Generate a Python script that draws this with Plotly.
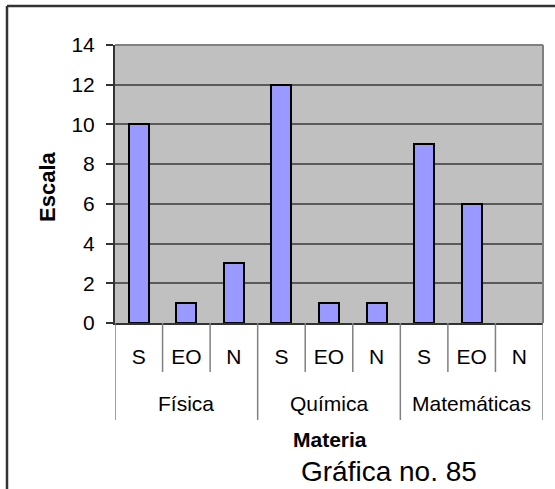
import plotly.graph_objects as go

subjects = ["Física", "Química", "Matemáticas"]
responses = ["S", "EO", "N"]
fisica = [10, 1, 3]
quimica = [12, 1, 1]
matematicas = [9, 6, 0]
y_ticks = [0, 2, 4, 6, 8, 10, 12, 14]

series = [fisica, quimica, matematicas]
values = [v for s in series for v in s]
n_resp = len(responses)
positions = list(range(len(values)))
tick_text = responses * len(subjects)

FONT = "Liberation Sans, Arial, sans-serif"
W, H = 555, 489
ML, MR, MT, MB = 115, 12, 45, 166
PW, PH = W - ML - MR, H - MT - MB


def px_x(p):
    return (p - ML) / PW


def px_y(p):
    return (H - MB - p) / PH


fig = go.Figure()
fig.add_trace(go.Bar(
    x=positions, y=values, width=0.42,
    marker=dict(color="#9999FF",
                line=dict(color="#000000", width=[2 if v > 0 else 0 for v in values])),
    hoverinfo="y",
))

shapes = []
# outer chart frame (left and top edges visible)
shapes.append(dict(type="line", xref="paper", yref="paper",
                   x0=px_x(7), x1=px_x(W + 20), y0=px_y(6), y1=px_y(6),
                   line=dict(color="#333333", width=2.5)))
shapes.append(dict(type="line", xref="paper", yref="paper",
                   x0=px_x(7), x1=px_x(7), y0=px_y(6), y1=px_y(H + 20),
                   line=dict(color="#333333", width=2.5)))
# plot-area top/right border
shapes.append(dict(type="line", xref="paper", yref="paper",
                   x0=0, x1=1, y0=1, y1=1, line=dict(color="#808080", width=2)))
shapes.append(dict(type="line", xref="paper", yref="paper",
                   x0=1, x1=1, y0=0, y1=1, line=dict(color="#808080", width=2)))
# category dividers
for k in range(len(values) + 1):
    xb = k - 0.5
    long_line = (k % n_resp == 0)
    shapes.append(dict(type="line", xref="x", yref="paper",
                       x0=xb, x1=xb, y0=0, y1=px_y(420) if long_line else px_y(372),
                       line=dict(color="#808080", width=1.5)))

annotations = []
for gi, name in enumerate(subjects):
    annotations.append(dict(x=gi * n_resp + (n_resp - 1) / 2, y=px_y(403), xref="x", yref="paper",
                            text=name, showarrow=False, yanchor="middle",
                            font=dict(family=FONT, size=21, color="#000000")))
annotations.append(dict(x=px_x(48), y=px_y(187), xref="paper", yref="paper",
                        text="<b>Escala</b>", textangle=-90, showarrow=False,
                        xanchor="center", yanchor="middle",
                        font=dict(family=FONT, size=22, color="#000000")))
annotations.append(dict(x=px_x(330), y=px_y(439), xref="paper", yref="paper",
                        text="<b>Materia</b>", showarrow=False,
                        xanchor="center", yanchor="middle",
                        font=dict(family=FONT, size=21, color="#000000")))
annotations.append(dict(x=px_x(389), y=px_y(471), xref="paper", yref="paper",
                        text="Gráfica no. 85", showarrow=False,
                        xanchor="center", yanchor="middle",
                        font=dict(family=FONT, size=28, color="#000000")))

fig.update_layout(
    width=W, height=H,
    margin=dict(l=ML, r=MR, t=MT, b=MB, pad=0),
    paper_bgcolor="#FFFFFF", plot_bgcolor="#C0C0C0",
    showlegend=False, bargap=0,
    shapes=shapes, annotations=annotations,
    font=dict(family=FONT, color="#000000"),
    xaxis=dict(range=[-0.5, len(values) - 0.5], tickvals=positions, ticktext=tick_text,
               ticks="", showgrid=False, zeroline=False,
               showline=True, linecolor="#333333", linewidth=2,
               tickfont=dict(family=FONT, size=21, color="#000000"),
               ticklabelstandoff=14, fixedrange=True),
    yaxis=dict(range=[0, 14], tickvals=y_ticks, ticks="outside", ticklen=7,
               tickcolor="#333333", tickwidth=1.5,
               showgrid=True, gridcolor="#5A5A5A", gridwidth=1.5, zeroline=False,
               showline=True, linecolor="#333333", linewidth=2,
               tickfont=dict(family=FONT, size=21, color="#000000"),
               ticklabelstandoff=7, fixedrange=True),
)

fig.write_html(
    "out.html",
    config={"displayModeBar": False},
    post_script="document.body.style.margin='0';document.body.style.overflow='hidden';",
)
